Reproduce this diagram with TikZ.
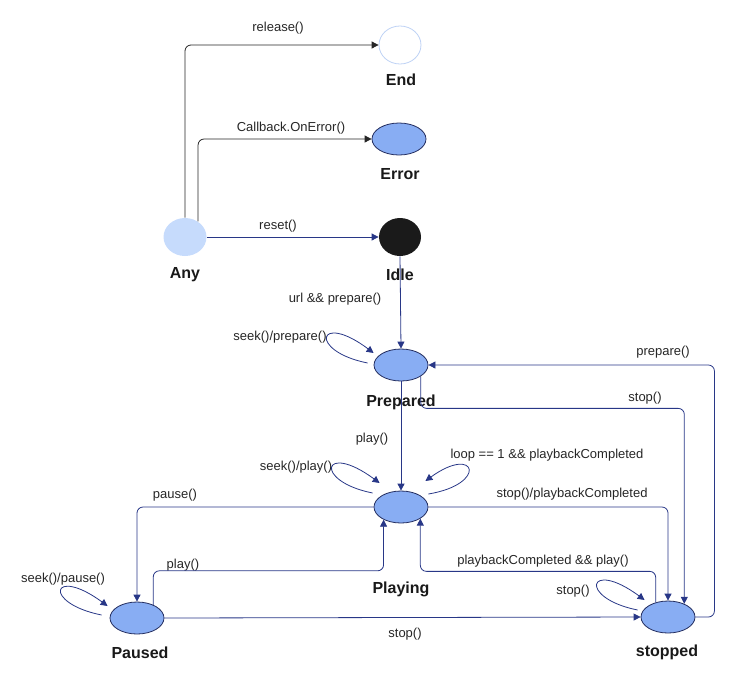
\documentclass[tikz,border=0pt]{standalone}
\usepackage{fontspec}
\setmainfont{Liberation Sans}
\usetikzlibrary{arrows.meta,calc,shapes.geometric}
\definecolor{edgeblue}{RGB}{40,55,135}
\definecolor{rimblue}{RGB}{35,45,95}
\definecolor{stfill}{RGB}{136,173,243}
\definecolor{anyfill}{RGB}{198,219,252}
\definecolor{endrim}{RGB}{190,210,245}
\definecolor{idlefill}{RGB}{26,26,26}
\tikzset{
  state/.style={ellipse, draw=rimblue, fill=stfill, minimum width=54pt, minimum height=32pt, inner sep=0pt, line width=0.8pt},
  bigstate/.style={ellipse, minimum width=43pt, minimum height=38pt, inner sep=0pt, line width=0.8pt},
  title/.style={font=\fontsize{16}{19}\selectfont\bfseries, text=black!90, yshift=-2.5pt},
  lbl/.style={font=\fontsize{13}{15}\selectfont, text=black!85, yshift=-2pt},
  trans/.style={draw=edgeblue, line width=0.8pt, -{Triangle[length=7pt,width=7pt]}, rounded corners=6pt},
  blacktrans/.style={trans, draw=black!85}
}

\begin{document}
\begin{tikzpicture}[x=1pt, y=-1pt]
			%%%%% START %%%%%
			\useasboundingbox (0,0) rectangle (735,673);
			
			\node[bigstate, fill=anyfill] (any) at (185,237) {};
			\node[bigstate, draw=endrim, fill=white, minimum width=42pt] (end) at (400,45) {};
			\node[state] (error) at (399,139) {};
			\node[bigstate, fill=idlefill, minimum width=42pt] (idle) at (400,237) {};
			\node[state] (prep) at (401,365) {};
			\node[state] (play) at (401,507) {};
			\node[state] (paused) at (137,618) {};
			\node[state] (stopped) at (668,617) {};
			
			\node[title] (anyT) at (185,272) {Any};
			\node[title] (endT) at (401,77) {End};
			\node[title] (errorT) at (400,172) {Error};
			\node[title] (idleT) at (400,272) {Idle};
			\node[title] (prepT) at (401,400) {Prepared};
			\node[title] (playT) at (401,587) {Playing};
			\node[title] (pausedT) at (140,650) {Paused};
			\node[title] (stoppedT) at (667,650) {stopped};
			
			\node[lbl] (lrelease) at (278,26) {release()};
			\node[lbl] (lerror) at (291,126) {Callback.OnError()};
			\node[lbl] (lreset) at (278,224) {reset()};
			\node[lbl] (lurl) at (335,297) {url \&\& prepare()};
			\node[lbl] (lseekprep) at (280,335) {seek()/prepare()};
			\node[lbl] (lplay) at (372,437) {play()};
			\node[lbl] (lseekplay) at (296,465) {seek()/play()};
			\node[lbl] (lloop) at (547,453) {loop == 1 \&\& playbackCompleted};
			\node[lbl] (lstopcomp) at (572,492) {stop()/playbackCompleted};
			\node[lbl] (lprepare) at (663,350) {prepare()};
			\node[lbl] (lstopprep) at (645,396) {stop()};
			\node[lbl] (lpause) at (175,493) {pause()};
			\node[lbl] (lresume) at (183,563) {play()};
			\node[lbl] (lreplay) at (543,559) {playbackCompleted \&\& play()};
			\node[lbl] (lstopself) at (573,589) {stop()};
			\node[lbl] (lseekpause) at (63,577) {seek()/pause()};
			\node[lbl] (lstop) at (405,632) {stop()};
			
			% from Any
			\draw[blacktrans] (any.north) |- (end.west);
			\draw[blacktrans] (any.50) |- (error.west);
			\draw[trans] (any.east) -- (idle.west);
			
			% main line
			\draw[trans] (idle.south) -- (prep.north);
			\draw[trans] (prep.south) -- (play.north);
			\draw[trans] (play.west) -| (paused.north);
			\draw[trans] (paused.39) -- ++(0,-34) -| (play.-144);
			\draw[trans] (paused.east) -- (stopped.west);
			
			% to and from stopped
			\draw[trans] (play.east) -| (stopped.north);
			\draw[trans] (prep.-30) -- ++(0,32) -| (stopped.39);
			\draw[trans] (stopped.east) -- ++(19,0) |- (prep.east);
			\draw[trans] (stopped.130) -- ++(0,-31) -| (play.-31);
			
			% self loops
			\draw[trans] ([shift={(-6,-2)}]prep.west) .. controls +(-60,-12) and +(-56,-42) .. ([shift={(0,-12)}]prep.west);
			\draw[trans] ([shift={(-1,-14)}]play.west) .. controls +(-60,-12) and +(-57,-42) .. ([shift={(6,-24)}]play.west);
			\draw[trans] ([shift={(0,-13)}]play.east) .. controls +(60,-10) and +(51,-37) .. ([shift={(-3,-26)}]play.east);
			\draw[trans] ([shift={(-8,-3)}]paused.west) .. controls +(-60,-12) and +(-56,-41) .. ([shift={(-2,-12)}]paused.west);
			\draw[trans] ([shift={(-3,-7)}]stopped.west) .. controls +(-60,-12) and +(-57,-42) .. ([shift={(4,-17)}]stopped.west);
			
			%%%%% END %%%%%
\end{tikzpicture}
\end{document}
